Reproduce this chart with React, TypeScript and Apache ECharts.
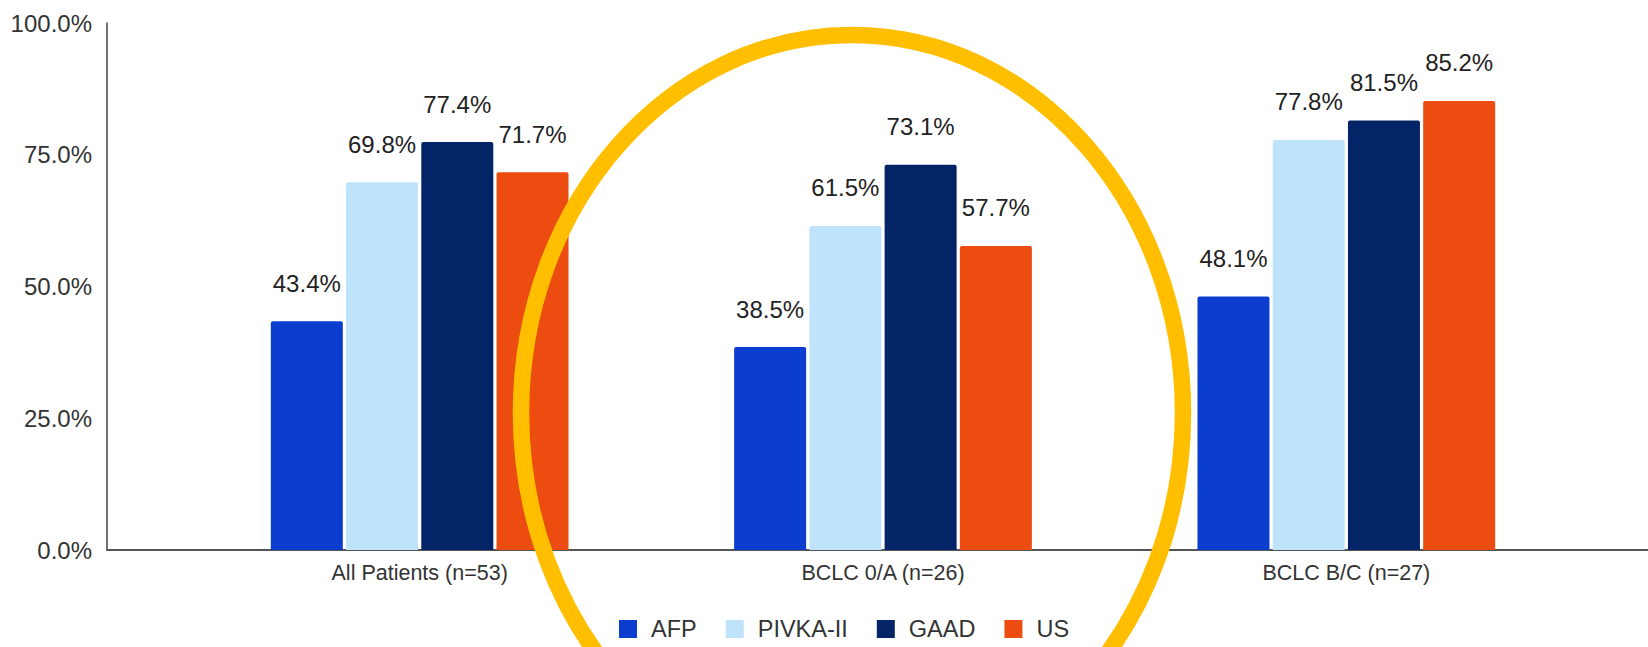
import React, { useEffect, useRef } from "react";
import * as echarts from "echarts";

const categories = ["All Patients (n=53)", "BCLC 0/A (n=26)", "BCLC B/C (n=27)"];
const seriesNames = ["AFP", "PIVKA-II", "GAAD", "US"];
const afp = [43.4, 38.5, 48.1];
const pivka = [69.8, 61.5, 77.8];
const gaad = [77.4, 73.1, 81.5];
const us = [71.7, 57.7, 85.2];
const colors = ["#0B3ECF", "#BEE3FA", "#032466", "#EC4C10"];
const yTicks = [0, 25, 50, 75, 100];

const FONT = "'Liberation Sans', Arial, sans-serif";

export default function App() {
  const ref = useRef<HTMLDivElement>(null);
  useEffect(() => {
    if (!ref.current) return;
    const chart = echarts.init(ref.current, null, { renderer: "svg" });
    const values = [afp, pivka, gaad, us];
    chart.setOption({
      animation: false,
      backgroundColor: "#ffffff",
      textStyle: { fontFamily: FONT },
      grid: [
        { left: 107, right: 0, top: 23, bottom: 97 },
        { left: 188, right: 70, top: 23, bottom: 97 },
      ],
      legend: {
        data: seriesNames,
        left: 614,
        top: 612,
        icon: "rect",
        itemWidth: 18,
        itemHeight: 18,
        itemGap: 29,
        textStyle: { fontSize: 23.5, lineHeight: 24, color: "#333", fontFamily: FONT, padding: [0, 0, 0, 9] },
      },
      xAxis: [
        {
          gridIndex: 0,
          type: "value",
          min: 0,
          max: 1,
          axisLine: { show: true, onZero: false, lineStyle: { color: "#555", width: 2 } },
          axisTick: { show: false },
          axisLabel: { show: false },
          splitLine: { show: false },
        },
        {
          gridIndex: 1,
          type: "category",
          data: categories,
          axisLine: { show: false },
          axisTick: { show: false },
          axisLabel: { fontSize: 21.5, color: "#333", margin: 12, fontFamily: FONT },
        },
      ],
      yAxis: [
        {
          gridIndex: 0,
          type: "value",
          min: yTicks[0],
          max: yTicks[yTicks.length - 1],
          interval: 25,
          axisLine: { show: true, onZero: false, lineStyle: { color: "#444", width: 1.5 } },
          axisTick: { show: false },
          splitLine: { show: false },
          axisLabel: {
            fontSize: 24,
            color: "#333",
            margin: 15,
            fontFamily: FONT,
            formatter: (v: number) => v.toFixed(1) + "%",
          },
        },
        {
          gridIndex: 1,
          type: "value",
          min: 0,
          max: 100,
          show: false,
        },
      ],
      series: seriesNames.map((name, i) => ({
        name,
        type: "bar",
        xAxisIndex: 1,
        yAxisIndex: 1,
        data: values[i],
        barWidth: 72,
        barGap: "4.5%",
        itemStyle: { color: colors[i], borderRadius: [2, 2, 0, 0] },
        label: {
          show: true,
          position: "top",
          distance: 26,
          fontSize: 24,
          color: "#222",
          fontFamily: FONT,
          formatter: (p: any) => Number(p.value).toFixed(1) + "%",
        },
      })),
      graphic: [
        {
          type: "ellipse",
          shape: { cx: 852, cy: 413, rx: 331, ry: 378 },
          style: { fill: "transparent", stroke: "#FFBF00", lineWidth: 16.5 },
          z: 100,
        },
      ],
    });
    return () => chart.dispose();
  }, []);
  return (
    <div
      ref={ref}
      style={{ position: "fixed", left: 0, top: 0, width: 1648, height: 647 }}
    />
  );
}
